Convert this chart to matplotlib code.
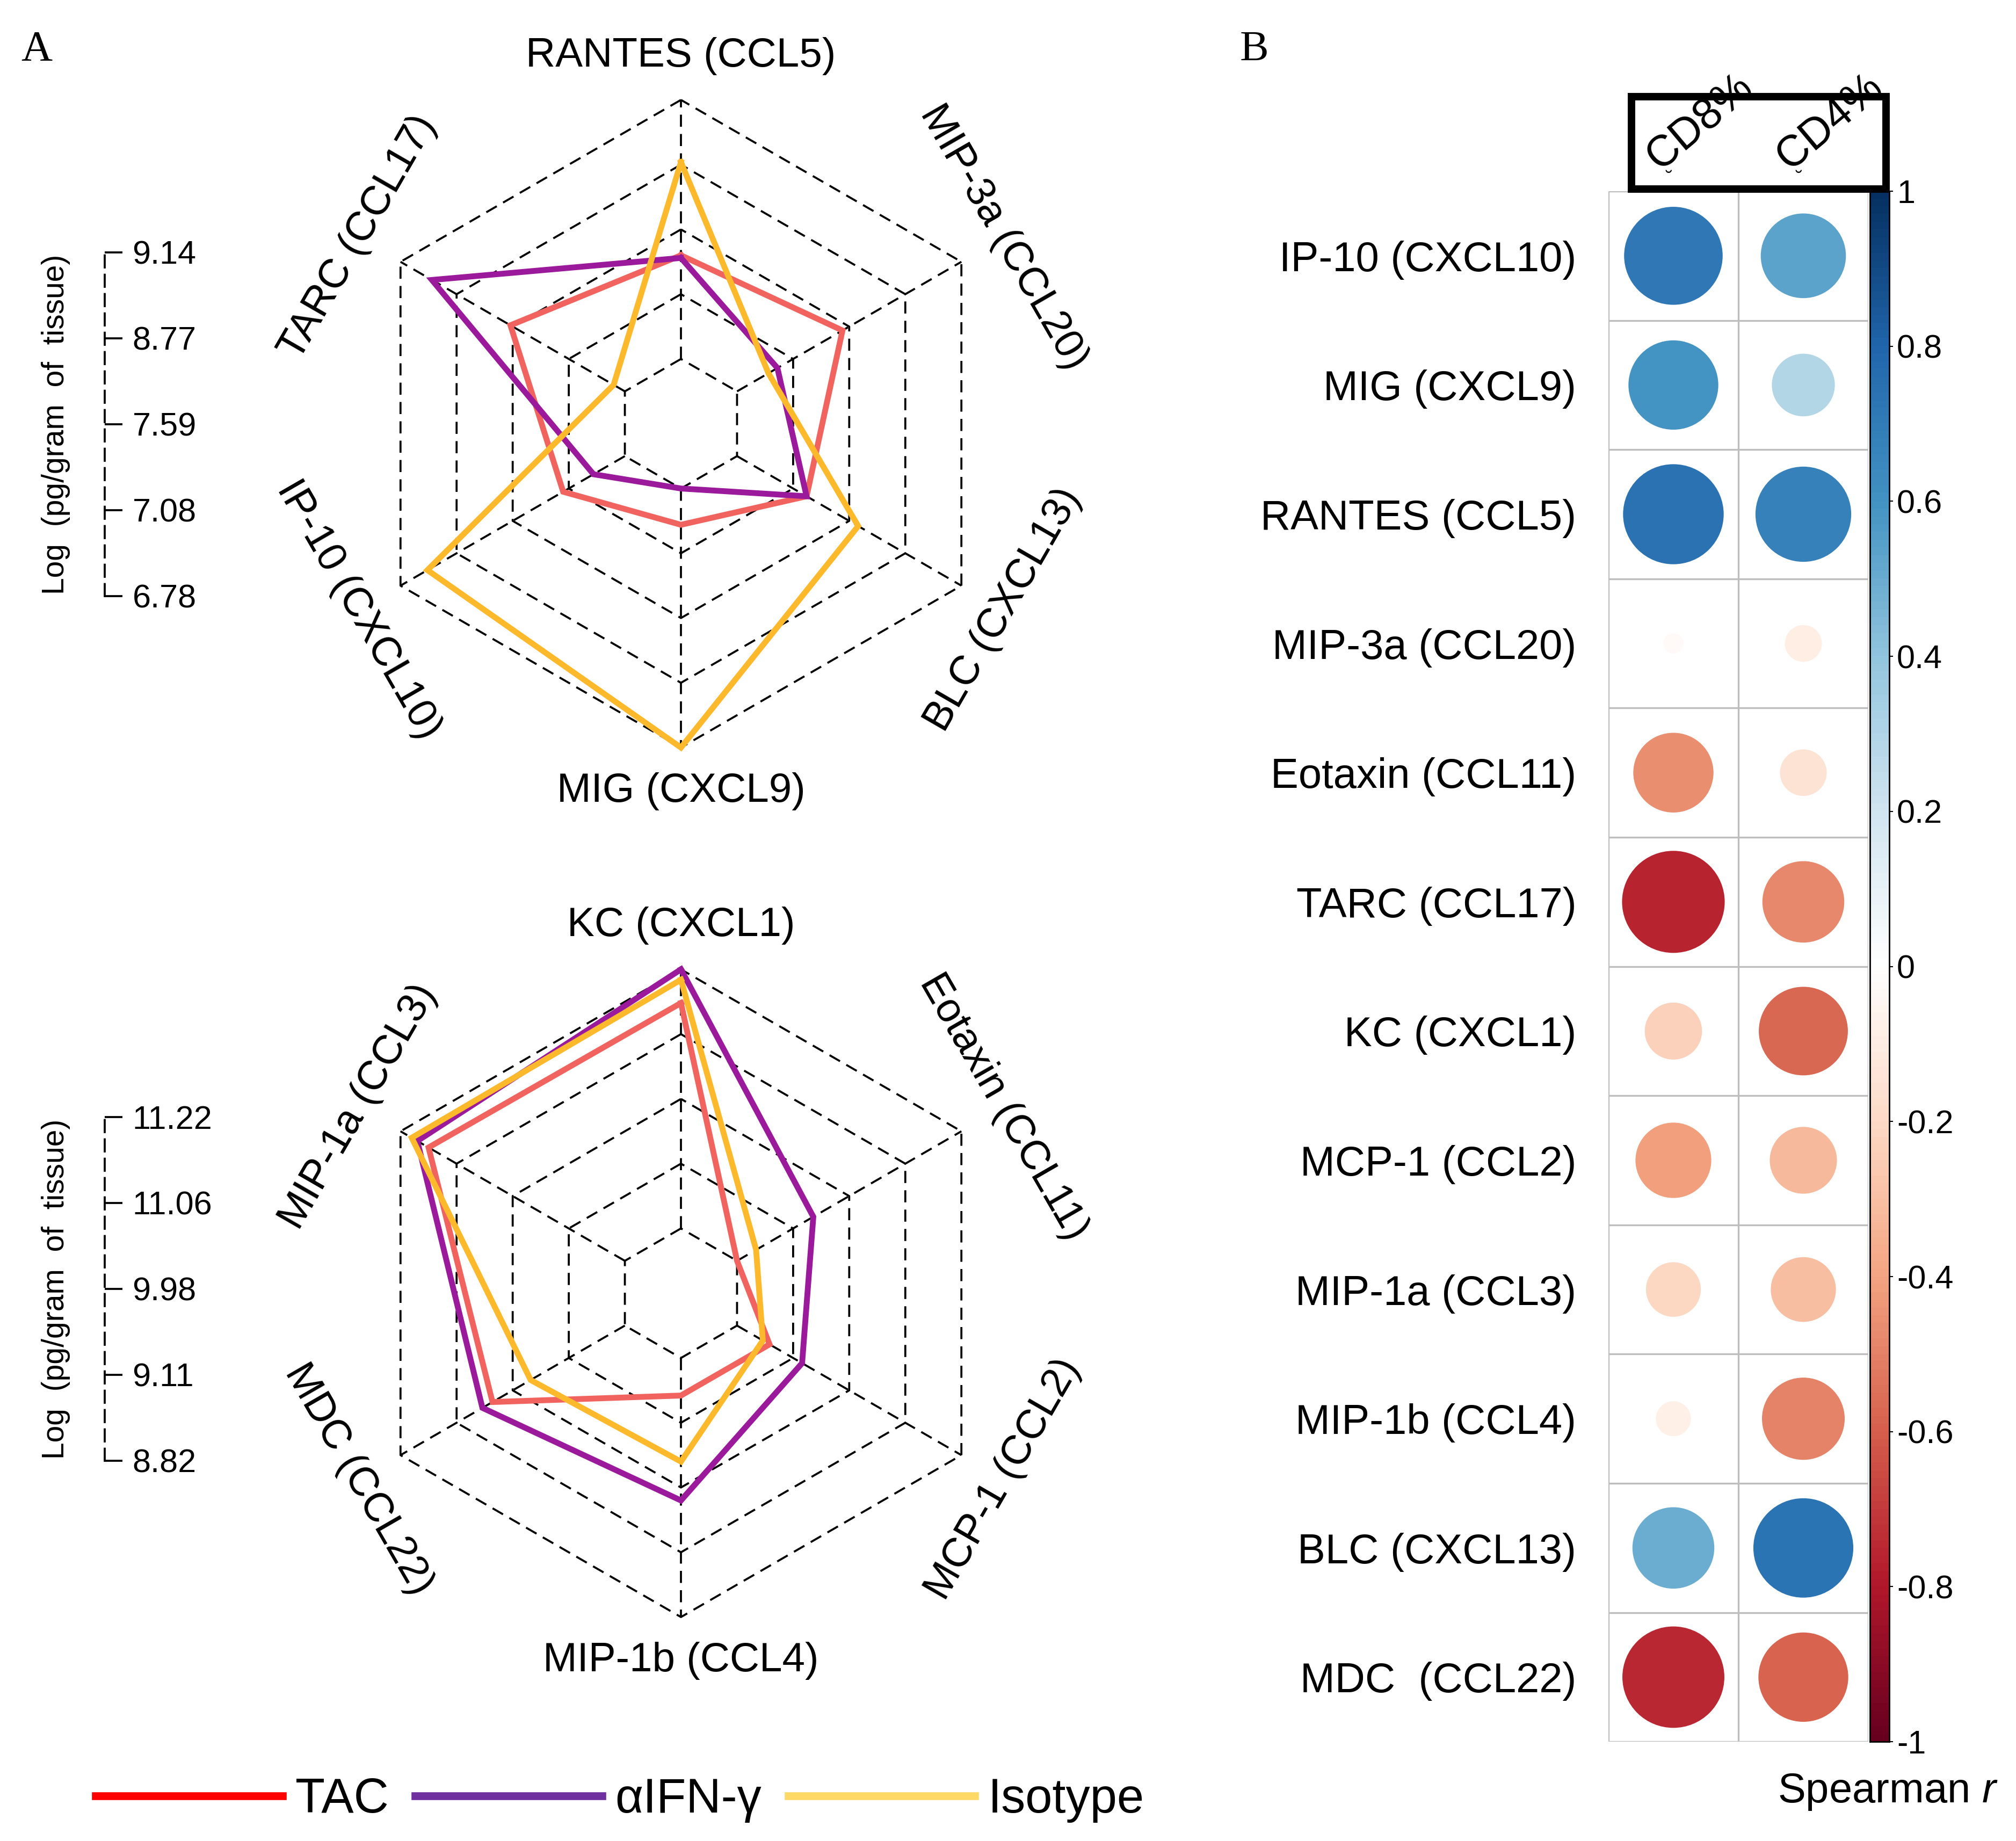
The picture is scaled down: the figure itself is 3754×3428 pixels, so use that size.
import numpy as np
import matplotlib
matplotlib.use('Agg')
import matplotlib.pyplot as plt
import matplotlib.font_manager as fm
from matplotlib.colors import LinearSegmentedColormap, Normalize
from matplotlib.patches import Circle, Rectangle
from matplotlib.lines import Line2D
from matplotlib.transforms import Bbox, TransformedBbox

# ---- data ----
top_axes = ['RANTES (CCL5)', 'TARC (CCL17)', 'IP-10 (CXCL10)',
            'MIG (CXCL9)', 'BLC (CXCL13)', 'MIP-3a (CCL20)']
top_tac = [0.40, 0.51, 0.275, 0.14, 0.31, 0.47]
top_ifn = [0.39, 0.86, 0.14, 0.0, 0.31, 0.18]
top_iso = [0.76, 0.05, 0.88, 1.0, 0.54, 0.14]
top_scale = ['9.14', '8.77', '7.59', '7.08', '6.78']

bot_axes = ['KC (CXCL1)', 'MIP-1a (CCL3)', 'MDC (CCL22)',
            'MIP-1b (CCL4)', 'MCP-1 (CCL2)', 'Eotaxin (CCL11)']
bot_tac = [0.87, 0.875, 0.59, 0.145, 0.145, 0.0]
bot_ifn = [1.0, 0.925, 0.635, 0.55, 0.29, 0.34]
bot_iso = [0.96, 0.95, 0.42, 0.40, 0.115, 0.085]
bot_scale = ['11.22', '11.06', '9.98', '9.11', '8.82']

groups = ['TAC', 'αIFN-γ', 'Isotype']

corr_rows = ['IP-10 (CXCL10)', 'MIG (CXCL9)', 'RANTES (CCL5)', 'MIP-3a (CCL20)',
             'Eotaxin (CCL11)', 'TARC (CCL17)', 'KC (CXCL1)', 'MCP-1 (CCL2)',
             'MIP-1a (CCL3)', 'MIP-1b (CCL4)', 'BLC (CXCL13)', 'MDC  (CCL22)']
corr_cols = ['CD8%', 'CD4%']
cd8 = [0.71, 0.59, 0.74, -0.03, -0.47, -0.77, -0.24, -0.42, -0.22, -0.09, 0.49, -0.76]
cd4 = [0.53, 0.29, 0.67, -0.10, -0.16, -0.49, -0.58, -0.33, -0.31, -0.50, 0.73, -0.59]
cbar_ticks = [1, 0.8, 0.6, 0.4, 0.2, 0, -0.2, -0.4, -0.6, -0.8, -1]
cbar_labels = ['1', '0.8', '0.6', '0.4', '0.2', '0', '-0.2', '-0.4', '-0.6', '-0.8', '-1']

# ---- fonts ----
names = {f.name for f in fm.fontManager.ttflist}
sans = 'Liberation Sans' if 'Liberation Sans' in names else 'DejaVu Sans'
serif = 'Liberation Serif' if 'Liberation Serif' in names else 'DejaVu Serif'
plt.rcParams['font.family'] = [sans, 'DejaVu Sans']
plt.rcParams['mathtext.fontset'] = 'custom'
plt.rcParams['mathtext.rm'] = sans
plt.rcParams['mathtext.it'] = sans + ':italic'

W, H = 3754, 3428
fig = plt.figure(figsize=(W / 100, H / 100), dpi=100)
fig.patch.set_facecolor('white')

R = 603.0          # radar radius in pixels
dash = (0, (6, 3.6))
grid_lw = 2.7
line_cols = ['#F1635F', '#9A1A9B', '#FBB92B']
legend_cols = ['#FF0000', '#7030A0', '#FFD966']


def radar(cx, cy, labels, series):
    half = 800
    ax = fig.add_axes([(cx - half) / W, 1 - (cy + half) / H, 2 * half / W, 2 * half / H])
    lim = half / R
    ax.set_xlim(-lim, lim)
    ax.set_ylim(-lim, lim)
    ax.axis('off')
    ang = np.deg2rad(90 + 60 * np.arange(6))
    ang_c = np.append(ang, ang[0])
    for lev in [0.2, 0.4, 0.6, 0.8, 1.0]:
        ax.plot(lev * np.cos(ang_c), lev * np.sin(ang_c), color='black', lw=grid_lw, ls=dash)
    for a in ang:
        ax.plot([0.2 * np.cos(a), np.cos(a)], [0.2 * np.sin(a), np.sin(a)],
                color='black', lw=grid_lw, ls=dash)
    for vals, col in zip(series, line_cols):
        r = 0.2 + 0.8 * np.array(vals)
        r = np.append(r, r[0])
        ax.plot(r * np.cos(ang_c), r * np.sin(ang_c), color=col, lw=7.8,
                solid_joinstyle='miter')
    rots = [0, 60, -60, 0, 60, -60]
    for lab, a, rot in zip(labels, ang, rots):
        rr = 1.135 if rot == 0 else 1.15
        ax.text(rr * np.cos(a), rr * np.sin(a), lab, rotation=rot, rotation_mode='anchor',
                ha='center', va='center', fontsize=55)


def scale_axis(cy, ticklabels):
    ax = fig.add_axes([194 / W, 1 - (cy + 320) / H, 1 / W, 640 / H])
    ax.set_ylim(0, 4)
    ax.set_xticks([])
    for s in ['left', 'top', 'bottom']:
        ax.spines[s].set_visible(False)
    ax.spines['right'].set_linestyle(dash)
    ax.spines['right'].set_linewidth(grid_lw)
    ax.yaxis.tick_right()
    ax.set_yticks(range(5))
    ax.set_yticklabels(ticklabels[::-1])
    ax.tick_params(axis='y', direction='out', length=24, width=grid_lw, pad=13, labelsize=44)
    ax.patch.set_alpha(0)
    fig.text(104 / W, 1 - cy / H, 'Log  (pg/gram  of  tissue)', rotation=90,
             ha='center', va='center', fontsize=41)


radar(1268, 789, top_axes, [top_tac, top_ifn, top_iso])
radar(1268, 2408, bot_axes, [bot_tac, bot_ifn, bot_iso])
scale_axis(790, top_scale)
scale_axis(2400, bot_scale)

handles = [Line2D([], [], color=c, lw=10.5) for c in legend_cols]
fig.legend(handles, groups, loc='center left', bbox_to_anchor=(178 / W, 1 - 3352 / H),
           ncol=3, frameon=False, fontsize=65, handlelength=3.85, handletextpad=0.27,
           columnspacing=0.55, borderaxespad=0, borderpad=0)

fig.text(39 / W, 1 - 113 / H, 'A', family=serif, fontsize=58, ha='left', va='baseline')
fig.text(2309 / W, 1 - 113 / H, 'B', family=serif, fontsize=58, ha='left', va='baseline')

# ---- correlation plot ----
rdbu = ['#67001F', '#B2182B', '#D6604D', '#F4A582', '#FDDBC7', '#FFFFFF',
        '#D1E5F0', '#92C5DE', '#4393C3', '#2166AC', '#053061']
cmap = LinearSegmentedColormap.from_list('corr_rdbu', rdbu, N=200)
norm = Normalize(-1, 1)

gx0, gtop, cw, rh = 2995, 356, 242, 240.6
nrow = len(corr_rows)
axc = fig.add_axes([gx0 / W, 1 - (gtop + nrow * rh) / H, 2 * cw / W, nrow * rh / H])
axc.set_xlim(0.5, 2.5)
axc.set_ylim(nrow + 0.5, 0.5)
for s in axc.spines.values():
    s.set_visible(False)
axc.hlines(np.arange(0.5, nrow + 1), 0.5, 2.5, color='#BEBEBE', lw=2.4)
axc.vlines([0.5, 1.5, 2.5], 0.5, nrow + 0.5, color='#BEBEBE', lw=2.4)
for j, col in enumerate([cd8, cd4]):
    for i, v in enumerate(col):
        axc.add_patch(Circle((j + 1, i + 1), 0.45 * np.sqrt(abs(v)),
                             facecolor=cmap(norm(v)), edgecolor='none'))
axc.set_xticks([])
axc.set_yticks(np.arange(1, nrow + 1))
axc.set_yticklabels(corr_rows, fontsize=56)
axc.tick_params(axis='y', length=0, pad=43)

clip = TransformedBbox(Bbox.from_extents(0.7, 0, 3519 / W, 1), fig.transFigure)
for j, lab in enumerate(corr_cols):
    cxp = gx0 + cw * (j + 0.5)
    t = fig.text((cxp - 26) / W, 1 - 318 / H, lab, rotation=40, rotation_mode='anchor',
                 ha='left', va='baseline', fontsize=58)
    t.set_clip_on(True)
    t.set_clip_box(clip)
    fig.text((cxp - 8) / W, 1 - 334 / H, '˘', ha='center', va='center', fontsize=26)

fig.add_artist(Rectangle((3038 / W, 1 - 352 / H), (3512 - 3038) / W, (352 - 180) / H,
                         transform=fig.transFigure, fill=False, edgecolor='black',
                         lw=10, zorder=10))

axb = fig.add_axes([3482 / W, 1 - (gtop + nrow * rh) / H, 36 / W, nrow * rh / H])
grad = np.linspace(-1, 1, 200)[:, None]
axb.imshow(grad, extent=[0, 1, -1, 1], origin='lower', aspect='auto', cmap=cmap, norm=norm)
axb.set_xticks([])
axb.yaxis.tick_right()
axb.set_yticks(cbar_ticks)
axb.set_yticklabels(cbar_labels)
axb.tick_params(axis='y', length=5, width=1.5, pad=5, labelsize=44)
for s in axb.spines.values():
    s.set_linewidth(2)

fig.text(3515 / W, 1 - 3337 / H, 'Spearman $\\mathit{r}$', ha='center', va='center',
         fontsize=56)

fig.savefig('out.png', dpi=100, facecolor='white')
